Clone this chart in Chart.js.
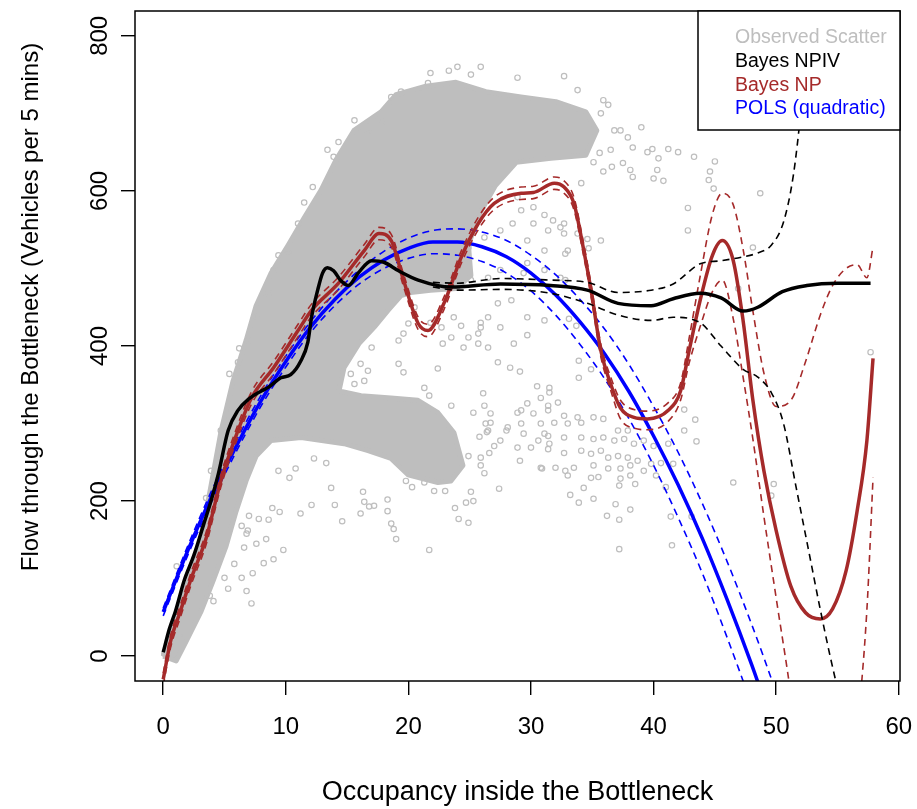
<!DOCTYPE html>
<html>
<head>
<meta charset="utf-8">
<script src="https://cdn.jsdelivr.net/npm/chart.js@4.4.1/dist/chart.umd.min.js"></script>
<style>
  html, body { margin: 0; padding: 0; background: #fff; }
  #wrap { width: 917px; height: 809px; }
</style>
</head>
<body>
<div id="wrap"><canvas id="plot" width="917" height="809"></canvas></div>
<script>
'use strict';

// axis ticks
const xTicks = [0, 10, 20, 30, 40, 50, 60];
const yTicks = [0, 200, 400, 600, 800];

// dense part of the observed scatter, traced as an outline (occupancy, flow)
const cloudX = [0, 0.65, 1.47, 2.69, 3.67, 4.73, 5.70, 6.76, 7.58, 8.80, 10.19, 11.49, 12.88, 14.10, 15.57, 17.77, 18.99, 21.43, 23.88, 26.32, 29.18, 32.03, 34.47, 35.37, 34.47, 31.62, 28.8, 27.1, 25.75, 24.9, 25.1, 23.9, 21.8, 20.2, 19.40, 18.34, 17.20, 15.97, 14.75, 14.34, 16.14, 18.58, 20.78, 22.41, 23.72, 24.45, 23.47, 22.41, 19.97, 18.58, 16.71, 14.75, 11.25, 8.80, 7.58, 6.76, 5.95, 5.13, 4.07, 3.10, 1.87, 1.06, 0];
const cloudY = [0, 32, 71, 123, 200, 291, 355, 407, 452, 494, 530, 565, 601, 640, 678, 702, 724, 735, 740, 728, 721, 715, 702, 678, 646, 642, 637, 607, 569, 530, 491, 474, 472, 469, 465, 446, 424, 403, 372, 342, 336, 333, 330, 314, 288, 246, 226, 224, 234, 255, 265, 274, 282, 278, 258, 226, 187, 142, 97, 58, 19, -6, 0];

// sparse observations outside the dense cloud
const obsX = [21.8, 21.6, 19.4, 18.6, 15.6, 17.8, 16.7, 14.3, 13.4, 13.9, 12.2, 11.5, 11.0, 10.2, 9.4, 9.0, 8.6, 7.6, 6.2, 6.9, 6.1, 5.4, 4.7, 3.9, 3.5, 1.1,
  24.0, 25.9, 25.1, 23.3, 28.9, 32.7, 33.8, 35.9, 36.3, 35.7, 36.8, 37.3, 37.9, 38.3, 36.5, 37.5, 35.1, 39.0, 39.5, 39.9, 41.2, 42.0, 43.3, 40.4, 40.3, 38.1, 38.3, 40.0, 40.8, 45.0, 44.6, 44.5, 44.9, 48.7, 42.8, 42.8, 48.1, 46.9, 36.6, 35.9, 35.6, 34.1,
  34.7, 33.0, 31.1, 29.7, 30.2, 31.1, 31.8, 32.4, 29.2, 28.9, 30.2, 31.4, 32.7, 28.5, 27.5, 26.2, 24.9, 29.7, 29.4, 31.1, 32.4, 27.5, 26.5, 25.1, 28.4, 27.3, 26.5, 29.7, 31.1, 29.7, 27.5, 25.9, 24.9, 23.7, 22.7, 21.8, 20.5, 20.0, 19.6, 23.5, 22.8, 28.6, 25.7, 24.5, 32.7, 32.8, 32.8, 33.1, 33.7, 33.9, 33.8, 35.7, 34.6,
  19.2, 17.0, 16.1, 16.7, 16.4, 15.3, 15.6, 19.6, 19.2, 21.3, 22.4, 21.7, 24.3, 25.7, 26.5, 26.1, 26.2, 26.7, 23.5, 25.9,
  27.3, 28.3, 29.1, 25.3, 26.3, 26.4, 25.8, 27.5, 27.0, 26.6, 25.9, 25.9, 26.2, 24.9, 28.1, 28.9, 29.1, 30.9, 27.4, 25.1, 25.3, 24.7, 23.8, 24.1, 24.9, 21.7, 18.3, 18.3, 18.6, 18.8, 19.0, 16.3, 16.4, 16.8, 17.2, 16.1, 14.6, 14.0, 12.1, 11.2, 13.7, 9.5, 8.9, 8.6, 8.4, 9.8, 9.0, 8.2, 22.1, 23.0, 21.3, 20.3, 19.8,
  29.7, 30.2, 30.8, 31.1, 30.6, 30.0, 29.4, 31.4, 31.5, 29.2,
  33.9, 34.9, 30.5, 31.5, 31.5, 30.8, 31.4, 32.2, 28.9, 32.7, 33.8, 35.1, 35.9, 29.2, 31.9, 33.0, 34.1, 37.1, 37.9, 28.0, 31.4, 32.7, 34.1, 35.1, 35.9, 36.8, 37.6, 38.4, 39.2, 40.0, 41.2, 42.5, 43.5, 31.4, 32.7, 34.1, 34.9, 35.7, 36.3, 37.1, 37.9, 38.7, 39.8, 40.6, 41.6, 35.1, 36.3, 37.3, 38.1, 39.2, 40.2, 30.8, 32.0, 32.8, 33.5, 34.9, 35.5, 37.3, 38.1, 37.2, 38.5, 41.0, 34.3, 33.0, 33.2, 35.1, 33.9, 36.9, 38.1, 36.2, 41.5, 37.2, 26.7, 26.5,
  43.4, 42.5, 46.5, 49.8, 49.6, 41.4, 37.2, 43.1, 57.7,
  13.3, 12.3, 9.4, 10.3, 10.8, 7.3, 7.2, 6.8, 5.3, 6.4, 7.6, 6.9, 4.1, 3.8, 7.8, 7.0, 6.4, 6.6, 5.8, 6.8, 5.0, 0.1, 1.3];
const obsY = [752, 739, 728, 721, 691, 689, 676, 663, 653, 644, 605, 585, 558, 520, 517, 498, 468, 437, 397, 407, 379, 364, 291, 239, 204, 116,
  760, 760, 750, 755, 746, 748, 730, 717, 711, 700, 678, 678, 669, 656, 653, 636, 637, 682, 650, 654, 654, 650, 644, 642, 627, 627, 618, 616, 613, 638, 625, 614, 603, 597, 578, 549, 527, 474, 631, 625, 649, 610,
  526, 523, 523, 536, 558, 569, 562, 553, 575, 592, 579, 549, 545, 558, 549, 540, 527, 507, 494, 498, 488, 498, 488, 485, 459, 455, 437, 437, 433, 414, 424, 424, 411, 437, 424, 430, 450, 429, 416, 411, 403, 403, 403, 398, 558, 519, 485, 435, 426, 381, 545, 536, 538,
  407, 398, 377, 368, 355, 364, 351, 366, 377, 346, 371, 336, 426, 416, 398, 339, 323, 313, 323, 430,
  379, 372, 367, 314, 300, 289, 283, 278, 271, 262, 256, 246, 236, 258, 295, 269, 252, 242, 216, 212, 200, 198, 191, 177, 172, 137, 202, 187, 171, 164, 151, 212, 199, 193, 194, 184, 174, 195, 195, 184, 217, 186, 191, 176, 151, 137, 125, 120, 213, 213, 224, 218, 226,
  326, 313, 300, 287, 278, 269, 287, 317, 274, 317,
  359, 370, 348, 346, 340, 333, 323, 327, 314, 310, 308, 308, 306, 300, 301, 300, 301, 291, 291, 291, 284, 282, 282, 280, 282, 278, 280, 274, 278, 271, 274, 291, 277, 267, 262, 265, 261, 265, 256, 258, 256, 252, 248, 249, 248, 246, 242, 242, 246, 239, 233, 243, 243, 239, 243, 230, 231, 229, 233, 220, 222, 218, 217, 233, 208, 203, 198, 196, 189, 181, 143, 138, 301, 291,
  305, 318, 224, 222, 207, 180, 176, 180, 392,
  249, 255, 239, 230, 242, 107, 68, 84, 87, 101, 145, 162, 71, 78, 177, 181, 168, 140, 119, 158, 101, 3, 28];

// Bayes NPIV fit and its band
const npivX = [0, 0.5, 1.0, 1.7, 2.5, 3.3, 3.9, 4.5, 5.3, 6.1, 7.0, 8.0, 8.6, 9.6, 10.4, 11.2, 11.8, 12.1, 12.6, 13.0, 13.4, 13.9, 14.5, 15.1, 15.9, 17.0, 18.0, 19.2, 20.8, 23.5, 27.5, 31.6, 34.6, 37.1, 39.8, 41.6, 43.8, 45.5, 47.3, 48.5, 50.5, 52.5, 55.0, 57.7];
const npivY = [5, 35, 58, 97, 130, 170, 200, 235, 291, 317, 332, 342, 347, 359, 363, 380, 405, 437, 472, 494, 501, 497, 484, 478, 494, 510, 508, 497, 485, 476, 480, 478, 472, 455, 452, 461, 468, 462, 445, 450, 470, 478, 481, 481];
const npivHiX = [22, 24, 27.5, 31.6, 34.6, 37.1, 39.8, 41.6, 43.8, 45.5, 47.3, 48.5, 49.6, 50.6, 51.4, 52.0, 52.6, 53.2];
const npivHi = [482, 481, 487, 485, 482, 469, 472, 480, 506, 510, 515, 520, 530, 560, 620, 700, 800, 880];
const npivLoX = [22, 24, 27.5, 31.6, 34.6, 37.1, 39.8, 41.6, 43.8, 45.5, 47.3, 48.5, 49.6, 50.6, 51.6, 52.6, 53.6, 54.4, 55.2];
const npivLo = [476, 472, 473, 468, 455, 440, 433, 437, 430, 400, 370, 360, 340, 300, 220, 140, 60, 0, -55];

// Bayes NP fit and its band
const npX = [0, 0.6, 1.4, 2.3, 3.5, 4.7, 5.8, 7.2, 9.0, 11.0, 12.1, 14.3, 16.4, 17.6, 18.6, 19.6, 20.8, 21.6, 22.9, 24.3, 25.7, 27.0, 29.2, 30.2, 31.9, 32.7, 33.5, 34.2, 34.9, 35.7, 36.5, 37.3, 38.4, 39.5, 41.2, 42.2, 42.9, 43.8, 44.8, 45.6, 46.5, 47.3, 48.1, 49.0, 50.0, 51.2, 52.4, 53.6, 54.6, 55.7, 56.6, 57.4, 57.9];
const npY = [-30, 19, 58, 101, 152, 226, 278, 333, 372, 420, 446, 481, 523, 545, 536, 485, 429, 420, 455, 514, 558, 584, 597, 598, 610, 605, 584, 532, 472, 394, 351, 320, 308, 306, 317, 342, 394, 459, 517, 536, 510, 433, 330, 239, 162, 90, 56, 48, 61, 110, 187, 278, 384];
const npHi = [-22, 27, 66, 109, 160, 234, 286, 341, 380, 428, 454, 489, 531, 553, 544, 493, 437, 428, 463, 522, 566, 592, 605, 606, 618, 613, 592, 540, 480, 402, 360, 330, 318, 316, 327, 352, 410, 490, 570, 597, 582, 525, 445, 365, 322, 330, 380, 440, 478, 500, 505, 488, 528];
const npLo = [-38, 11, 50, 93, 144, 218, 270, 325, 364, 412, 438, 473, 515, 537, 528, 477, 421, 412, 447, 506, 550, 576, 589, 590, 602, 597, 576, 524, 464, 386, 343, 306, 294, 292, 303, 330, 378, 425, 470, 485, 435, 360, 280, 180, 75, -50, -200, -300, -300, -250, -100, 60, 230];

// POLS (quadratic) fit and its band
const polsX = [0, 2, 4, 6, 8, 10, 12, 14, 16, 18, 20, 22, 24, 26, 28, 30, 32, 34, 36, 38, 40, 42, 44, 46, 48, 49, 50];
const polsY = [57, 136, 208, 272, 330, 380, 424, 460, 489, 511, 526, 534, 534, 528, 515, 494, 466, 431, 390, 341, 284, 221, 151, 73, -11, -56, -103];
const polsHi = [62, 142, 215, 279, 337, 387, 431, 468, 498, 522, 539, 549, 551, 547, 536, 517, 492, 460, 422, 376, 322, 263, 196, 122, 41, -2, -47];
const polsLo = [52, 130, 201, 265, 323, 373, 417, 452, 480, 500, 513, 519, 517, 509, 494, 471, 440, 402, 358, 306, 246, 179, 106, 24, -63, -110, -159];

const legendItems = ['Observed Scatter', 'Bayes NPIV', 'Bayes NP', 'POLS (quadratic)'];

const GRAY = '#bebebe';
const BROWN = '#a52a2a';
const BLUE = '#0000ff';
const FONT = '"Liberation Sans", Arial, Helvetica, sans-serif';
const legendColors = [GRAY, '#000000', BROWN, BLUE];

const pts = (xs, ys) => xs.map((x, i) => ({ x, y: ys[i] }));

function curve(label, xs, ys, color, width, dash) {
    return {
        label,
        data: pts(xs, ys),
        showLine: true,
        borderColor: color,
        borderWidth: width,
        borderDash: dash || [],
        pointRadius: 0,
        pointHoverRadius: 0,
        fill: false,
        cubicInterpolationMode: 'monotone'
    };
}

function text(ctx, s, x, y, size, color, opts = {}) {
    ctx.save();
    ctx.translate(x, y);
    if (opts.rotate) ctx.rotate(-Math.PI / 2);
    ctx.font = `${size}px ${FONT}`;
    ctx.fillStyle = color;
    ctx.textAlign = opts.align || 'center';
    ctx.textBaseline = opts.baseline || 'middle';
    ctx.fillText(s, 0, 0);
    ctx.restore();
}

// R-style box, rotated y labels, titles and legend
const decorations = {
    id: 'decorations',
    afterDraw(chart) {
        const { ctx, chartArea: a, scales: { x, y } } = chart;
        ctx.save();
        ctx.strokeStyle = '#000';
        ctx.lineWidth = 1.5;
        ctx.strokeRect(a.left, a.top, a.right - a.left, a.bottom - a.top);

        xTicks.forEach(v => text(ctx, String(v), x.getPixelForValue(v), a.bottom + 46, 24, '#000'));
        yTicks.forEach(v => text(ctx, String(v), a.left - 35, y.getPixelForValue(v), 24, '#000', { rotate: true }));

        text(ctx, 'Occupancy inside the Bottleneck', (a.left + a.right) / 2, a.bottom + 112, 27, '#000');
        text(ctx, 'Flow through the Bottleneck (Vehicles per 5 mins)', 31, 307, 24, '#000', { rotate: true });

        // legend
        const lw = 202, lh = 119;
        const lx = a.right - lw, ly = a.top;
        ctx.fillStyle = '#fff';
        ctx.fillRect(lx, ly, lw, lh);
        ctx.strokeRect(lx, ly, lw, lh);
        legendItems.forEach((s, i) => {
            text(ctx, s, lx + 37, ly + 32 + i * 23.8, 19.5, legendColors[i], { align: 'left', baseline: 'alphabetic' });
        });
        ctx.restore();
    }
};

const dash = [7, 5];

new Chart(document.getElementById('plot'), {
    type: 'scatter',
    data: {
        datasets: [
            curve('Bayes NPIV', npivX, npivY, '#000', 3.5),
            curve('NPIV upper', npivHiX, npivHi, '#000', 1.6, dash),
            curve('NPIV lower', npivLoX, npivLo, '#000', 1.6, dash),
            curve('Bayes NP', npX, npY, BROWN, 3.5),
            curve('NP upper', npX, npHi, BROWN, 1.6, dash),
            curve('NP lower', npX, npLo, BROWN, 1.6, dash),
            curve('POLS (quadratic)', polsX, polsY, BLUE, 3.5),
            curve('POLS upper', polsX, polsHi, BLUE, 1.6, dash),
            curve('POLS lower', polsX, polsLo, BLUE, 1.6, dash),
            {
                label: 'Observed Scatter',
                data: pts(obsX, obsY),
                pointStyle: 'circle',
                pointRadius: 2.7,
                pointBorderWidth: 1.2,
                pointBackgroundColor: 'rgba(0,0,0,0)',
                pointBorderColor: GRAY
            },
            {
                label: 'Observed cloud',
                data: pts(cloudX, cloudY),
                showLine: true,
                tension: 0,
                pointRadius: 0,
                borderColor: GRAY,
                borderWidth: 5,
                borderJoinStyle: 'round',
                backgroundColor: GRAY,
                fill: 'shape'
            }
        ]
    },
    options: {
        responsive: false,
        animation: false,
        devicePixelRatio: 1,
        layout: { padding: { top: 11, right: 17, left: 0, bottom: 0 } },
        plugins: { legend: { display: false }, tooltip: { enabled: false } },
        scales: {
            x: {
                type: 'linear',
                min: -2.3,
                max: 60.1,
                afterBuildTicks: s => { s.ticks = xTicks.map(v => ({ value: v })); },
                afterFit: s => { s.height = 128; },
                ticks: { display: false },
                grid: { drawOnChartArea: false, drawTicks: true, tickLength: 14, color: '#000', lineWidth: 1.4 },
                border: { display: false }
            },
            y: {
                type: 'linear',
                min: -32,
                max: 832,
                afterBuildTicks: s => { s.ticks = yTicks.map(v => ({ value: v })); },
                afterFit: s => { s.width = 135; },
                ticks: { display: false },
                grid: { drawOnChartArea: false, drawTicks: true, tickLength: 14, color: '#000', lineWidth: 1.4 },
                border: { display: false }
            }
        }
    },
    plugins: [decorations]
});
</script>
</body>
</html>
